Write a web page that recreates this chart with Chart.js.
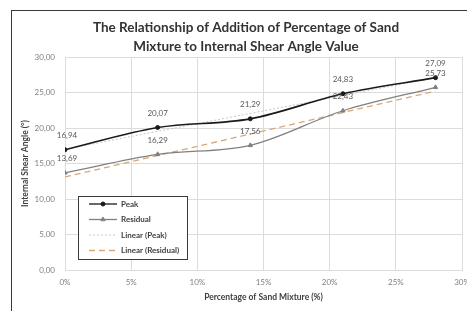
<!DOCTYPE html>
<html>
<head>
<meta charset="utf-8">
<script src="https://cdn.jsdelivr.net/npm/chart.js@4.4.1/dist/chart.umd.min.js"></script>
<style>
  html, body { margin: 0; padding: 0; background: #fff; }
  #wrap { width: 467px; height: 311px; }
</style>
</head>
<body>
<div id="wrap"><canvas id="chart" width="467" height="311"></canvas></div>
<script>
// values
const mixture = [0, 7, 14, 21, 28];
const peak = [16.94, 20.07, 21.29, 24.83, 27.09];
const residual = [13.69, 16.29, 17.56, 22.43, 25.73];
const trendX = [0, 28];
const peakTrend = [17.0, 27.1];
const residualTrend = [13.1, 25.2];
const xTicks = [0, 5, 10, 15, 20, 25, 30];
const yTicks = [0, 5, 10, 15, 20, 25, 30];
const titleLines = ['The Relationship of Addition of Percentage of Sand', 'Mixture to Internal Shear Angle Value'];
const seriesNames = ['Peak', 'Residual', 'Linear (Peak)', 'Linear (Residual)'];

const pts = (xs, ys) => xs.map((x, i) => ({ x: x, y: ys[i] }));
const comma = (v) => v.toFixed(2).replace('.', ',');
const FONT = 'Lato, "Open Sans", sans-serif';

// outer frame + chart title
const framePlugin = {
  id: 'frame',
  beforeDraw(chart) {
    const ctx = chart.ctx;
    ctx.save();
    ctx.fillStyle = '#fff';
    ctx.fillRect(0, 0, chart.width, chart.height);
    ctx.strokeStyle = '#3a3a3a';
    ctx.lineWidth = 1;
    ctx.strokeRect(11.5, 10.5, 480, 320);
    ctx.restore();
  },
  afterDraw(chart) {
    const ctx = chart.ctx;
    ctx.save();
    ctx.fillStyle = '#333';
    ctx.font = 'bold 13.5px ' + FONT;
    ctx.textAlign = 'center';
    ctx.textBaseline = 'middle';
    ctx.fillText(titleLines[0], 246, 28);
    ctx.fillText(titleLines[1], 246, 47);
    ctx.restore();
  }
};

// value labels above each marker
const labelPlugin = {
  id: 'valueLabels',
  afterDatasetsDraw(chart) {
    const ctx = chart.ctx;
    ctx.save();
    ctx.font = '8px ' + FONT;
    ctx.fillStyle = '#595959';
    ctx.textAlign = 'center';
    ctx.textBaseline = 'middle';
    [0, 1].forEach((di) => {
      const meta = chart.getDatasetMeta(di);
      meta.data.forEach((el, i) => {
        const v = chart.data.datasets[di].data[i].y;
        const dx = i === 0 ? 2 : 0;
        ctx.fillText(comma(v), el.x + dx, el.y - 14);
      });
    });
    ctx.restore();
  }
};

// legend box inside plot, like the Excel one
const legendPlugin = {
  id: 'boxLegend',
  afterDraw(chart) {
    const ctx = chart.ctx;
    const bx = 78, by = 196, bw = 109, bh = 63;
    ctx.save();
    ctx.fillStyle = '#fff';
    ctx.fillRect(bx, by, bw, bh);
    ctx.strokeStyle = '#3a3a3a';
    ctx.lineWidth = 1;
    ctx.strokeRect(bx + 0.5, by + 0.5, bw, bh);
    ctx.font = 'bold 8px ' + FONT;
    ctx.textBaseline = 'middle';
    chart.data.datasets.forEach((ds, i) => {
      const y = by + 8 + i * 15.5;
      ctx.strokeStyle = ds.borderColor;
      ctx.lineWidth = Math.min(ds.borderWidth, 1.3);
      ctx.setLineDash(ds.borderDash || []);
      ctx.beginPath();
      ctx.moveTo(89, y);
      ctx.lineTo(117, y);
      ctx.stroke();
      ctx.setLineDash([]);
      if (ds.pointRadius > 0) {
        ctx.fillStyle = ds.pointBackgroundColor;
        ctx.strokeStyle = ds.borderColor;
        ctx.lineWidth = 1;
        Chart.helpers.drawPoint(ctx, { pointStyle: ds.pointStyle, radius: ds.pointRadius, borderWidth: 1 }, 103, y);
      }
      ctx.fillStyle = '#404040';
      ctx.fillText(ds.label, 121, y);
    });
    ctx.restore();
  }
};

new Chart(document.getElementById('chart'), {
  type: 'line',
  data: {
    datasets: [
      {
        label: seriesNames[0],
        data: pts(mixture, peak),
        borderColor: '#1a1a1a',
        backgroundColor: '#1a1a1a',
        pointBackgroundColor: '#1a1a1a',
        borderWidth: 1.6,
        pointBorderWidth: 1,
        pointStyle: 'circle',
        pointRadius: 2,
        cubicInterpolationMode: 'monotone'
      },
      {
        label: seriesNames[1],
        data: pts(mixture, residual),
        borderColor: '#808080',
        backgroundColor: '#808080',
        pointBackgroundColor: '#808080',
        borderWidth: 1.3,
        pointBorderWidth: 1,
        pointStyle: 'triangle',
        pointRadius: 2.5,
        cubicInterpolationMode: 'monotone'
      },
      {
        label: seriesNames[2],
        data: pts(trendX, peakTrend),
        borderColor: '#c8c8c8',
        borderWidth: 1,
        borderDash: [2, 2],
        pointRadius: 0
      },
      {
        label: seriesNames[3],
        data: pts(trendX, residualTrend),
        borderColor: '#d6a877',
        borderWidth: 1.3,
        borderDash: [6, 4],
        pointRadius: 0
      }
    ]
  },
  options: {
    responsive: false,
    animation: false,
    devicePixelRatio: 1,
    layout: { padding: { top: 57, right: 4, bottom: 0, left: 0 } },
    plugins: {
      legend: { display: false },
      title: { display: false },
      tooltip: { enabled: false }
    },
    scales: {
      x: {
        type: 'linear',
        min: 0,
        max: 30,
        afterBuildTicks: (s) => { s.ticks = xTicks.map((v) => ({ value: v })); },
        afterFit: (s) => { s.height = 41; s.paddingLeft = 0; s.paddingRight = 0; },
        ticks: {
          callback: (v) => v + '%',
          color: '#808080',
          font: { family: FONT, size: 8 },
          padding: 8,
          maxRotation: 0
        },
        grid: { color: '#dcdcdc', drawTicks: false },
        border: { color: '#dcdcdc' },
        title: {
          display: true,
          text: 'Percentage of Sand Mixture (%)',
          color: '#404040',
          font: { family: FONT, size: 8.5, weight: 'bold' },
          padding: { top: 0, bottom: 9 }
        }
      },
      y: {
        min: 0,
        max: 30,
        afterBuildTicks: (s) => { s.ticks = yTicks.map((v) => ({ value: v })); },
        afterFit: (s) => { s.width = 65; s.paddingTop = 0; s.paddingBottom = 0; },
        ticks: {
          callback: (v) => comma(v),
          color: '#808080',
          font: { family: FONT, size: 8 },
          padding: 10
        },
        grid: { color: '#dcdcdc', drawTicks: false },
        border: { color: '#dcdcdc' },
        title: {
          display: true,
          text: 'Internal Shear Angle (°)',
          color: '#404040',
          font: { family: FONT, size: 8.5, weight: 'bold' },
          padding: { top: 20, bottom: 0 }
        }
      }
    }
  },
  plugins: [framePlugin, labelPlugin, legendPlugin]
});
</script>
</body>
</html>
